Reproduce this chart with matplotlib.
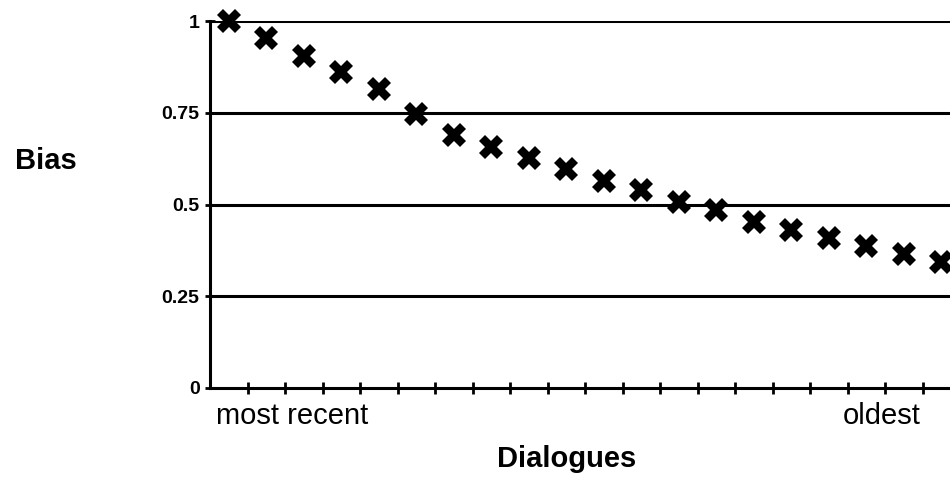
import matplotlib.pyplot as plt
import numpy as np

# bias for each dialogue, most recent first
dialogues = list(range(1, 21))
bias = [1.0, 0.954, 0.905, 0.861, 0.815, 0.747, 0.689, 0.657, 0.627, 0.597,
        0.564, 0.540, 0.507, 0.485, 0.452, 0.431, 0.409, 0.387, 0.365, 0.343]
yticks = [0, 0.25, 0.5, 0.75, 1]
yticklabels = ["0", "0.25", "0.5", "0.75", "1"]

plt.rcParams['font.family'] = ['Liberation Sans', 'DejaVu Sans']

fig = plt.figure(figsize=(9.5, 4.82), dpi=100)
ax = fig.add_axes([210 / 950, 94 / 482, 750 / 950, 367 / 482])

xpos = np.arange(len(dialogues))
for yv in yticks[1:]:
    ax.axhline(yv, color='black', linewidth=2.2, zorder=1)
ax.plot(xpos, bias, linestyle='none', marker='X', markersize=17,
        color='black', markeredgewidth=0, zorder=3, clip_on=False)

ax.set_xlim(-0.5, len(dialogues) - 0.5)
ax.set_ylim(0, 1)
ax.set_xticks(xpos[:-1] + 0.5)
ax.set_xticklabels([])
ax.set_yticks(yticks)
ax.set_yticklabels(yticklabels, fontsize=14, fontweight='bold')
ax.tick_params(axis='x', direction='inout', length=9, width=2)
ax.tick_params(axis='y', direction='inout', length=7, width=2, pad=4)

for side in ['top', 'right']:
    ax.spines[side].set_visible(False)
for side in ['left', 'bottom']:
    ax.spines[side].set_linewidth(2.2)

fig.text(292 / 950, 1 - 416 / 482, "most recent", fontsize=21,
         ha='center', va='center')
fig.text(882 / 950, 1 - 416 / 482, "oldest", fontsize=21,
         ha='center', va='center')
fig.text(567 / 950, 1 - 459 / 482, "Dialogues", fontsize=21,
         fontweight='bold', ha='center', va='center')
fig.text(46 / 950, 1 - 161 / 482, "Bias", fontsize=21,
         fontweight='bold', ha='center', va='center')

plt.savefig('out.png', dpi=100)
